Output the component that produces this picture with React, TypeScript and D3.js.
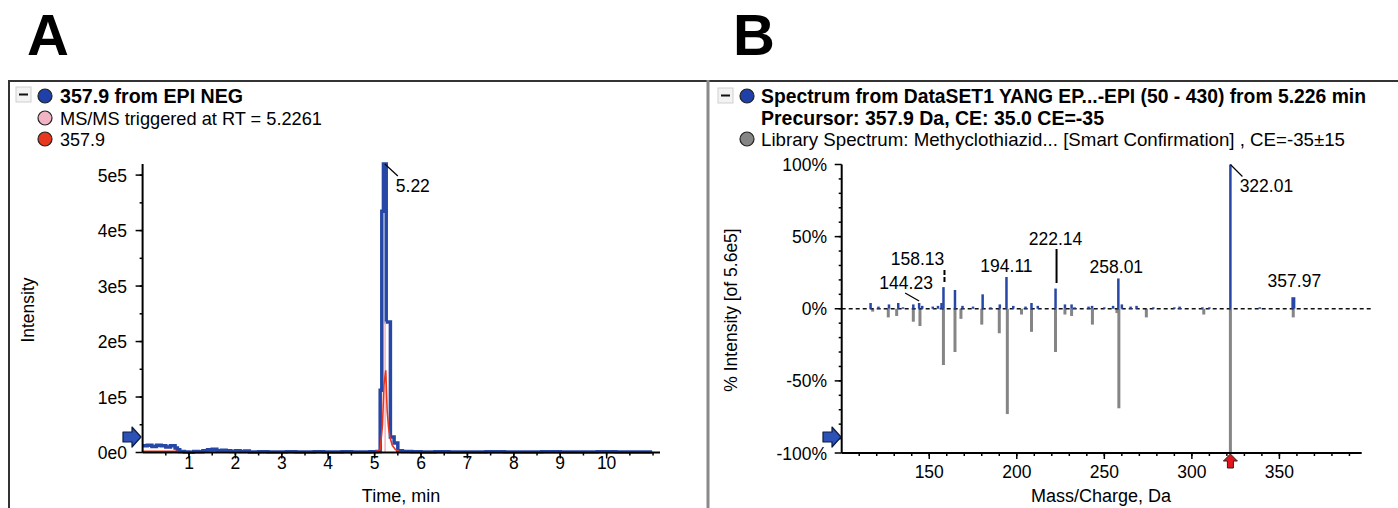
import React from 'react';
import * as d3 from 'd3';

// ---- panel A: chromatogram (time in min, intensity in units of 1e5) ----
const ticTime = [0, 0.1, 0.2, 0.3, 0.4, 0.5, 0.6, 0.7, 0.75, 0.8, 0.9, 1.0, 1.1, 1.2, 1.3, 1.4, 1.5, 1.6, 1.7, 1.8, 1.9, 2.0, 2.1, 2.2, 2.3, 2.5, 2.7, 2.9, 3.1, 3.3, 3.5, 3.7, 3.9, 4.1, 4.3, 4.5, 4.7, 4.9, 5.05, 5.12, 5.155, 5.19, 5.25, 5.34, 5.42, 5.5, 5.6, 5.8, 6.0, 6.3, 6.6, 7.0, 7.4, 7.8, 8.2, 8.6, 9.0, 9.4, 9.8, 10.2, 10.6, 10.98];
const ticValue = [0.12, 0.13, 0.11, 0.13, 0.12, 0.1, 0.12, 0.08, 0.05, 0.02, 0.01, 0.005, 0.02, 0.015, 0.03, 0.05, 0.06, 0.03, 0.04, 0.03, 0.02, 0.03, 0.02, 0.025, 0.01, 0.015, 0.01, 0.01, 0.015, 0.01, 0.01, 0.012, 0.01, 0.01, 0.012, 0.01, 0.01, 0.012, 0.02, 1.12, 4.35, 5.2, 2.35, 0.28, 0.17, 0.03, 0.02, 0.015, 0.01, 0.012, 0.01, 0.01, 0.012, 0.01, 0.01, 0.012, 0.01, 0.01, 0.012, 0.01, 0.01, 0.01];

const xicTime = [0, 0.75, 0.8, 1.5, 2.2, 3.0, 4.0, 5.0, 5.12, 5.17, 5.2, 5.24, 5.27, 5.3, 5.33, 5.38, 5.45, 5.55, 6.0, 8.0, 10.98];
const xicValue = [0.02, 0.02, 0.005, 0.01, 0.008, 0.004, 0.004, 0.005, 0.05, 0.5, 1.21, 1.48, 0.76, 0.45, 0.28, 0.13, 0.05, 0.01, 0.004, 0.004, 0.004];

const msmsRT = 5.2261;
const msmsHeight = 2.36;

const peakRT = 5.22;
const peakTop = 5.2;

const timeTicks = [1, 2, 3, 4, 5, 6, 7, 8, 9, 10];
const intensityTicks = [0, 1, 2, 3, 4, 5];
const intensityTickLabels = ['0e0', '1e5', '2e5', '3e5', '4e5', '5e5'];

// ---- panel B: mirror spectrum (m/z, % intensity) ----
const sampleMz = [116.5, 121, 127, 132.3, 135, 140.9, 144.23, 146, 152, 155, 157, 158.13, 164.7, 169, 175, 180.5, 185, 190.3, 194.11, 198, 205, 208.4, 212, 222.14, 227.5, 231.3, 233, 241, 243, 250, 255, 258.01, 260, 265, 268.4, 278, 290, 293, 306, 310, 322.01, 338.8, 357.97];
const samplePct = [4, 1.5, 3, 4, 1, 3, 4, 2, 1.5, 2, 4, 15, 13, 2, 1.5, 10, 1, 3, 22, 2, 1.5, 4, 2, 14, 3, 3, 1, 1.5, 2, 1, 2, 21, 3, 1.5, 2, 1, 1, 1.5, 1, 1, 100, 1, 8];

const libraryMz = [117.7, 126.6, 131.4, 140.9, 144.7, 158.1, 164.7, 168.1, 180, 190, 194.6, 202.7, 208.4, 222.1, 227.5, 231.3, 243.2, 257.2, 258.3, 274, 306.8, 322.0, 357.9];
const libraryPct = [2, 6, 5, 9, 12, 39, 30, 7, 11, 17, 73, 4, 16, 30, 4, 5, 11, 3, 69, 6, 4, 100, 6];

const labelMz = [144.23, 158.13, 194.11, 222.14, 258.01, 322.01, 357.97];
const labelText = ['144.23', '158.13', '194.11', '222.14', '258.01', '322.01', '357.97'];
// layout of the peak labels: text centre offset from the peak, baseline y, leader kind
const labelLayout = [
  { dx: -13, y: 289, leader: 'slant-left' },
  { dx: -26, y: 265, leader: 'dash' },
  { dx: 0, y: 272, leader: 'none' },
  { dx: 0, y: 245, leader: 'long' },
  { dx: -2, y: 273, leader: 'none' },
  { dx: 36, y: 192, leader: 'slant-right' },
  { dx: 1, y: 287, leader: 'none' },
];

const precursorMz = 322.01;
const mzTicks = [150, 200, 250, 300, 350];
const pctTicks = [-100, -50, 0, 50, 100];
const pctTickLabels = ['-100%', '-50%', '0%', '50%', '100%'];

const FONT = '"Liberation Sans", Arial, sans-serif';
const BLUE = '#2747a6';
const RED = '#e8371f';
const PINK = '#f2b4c4';
const GRAY = '#858585';

function LegendDot({ cx, cy, fill }: { cx: number; cy: number; fill: string }) {
  return <circle cx={cx} cy={cy} r={7} fill={fill} stroke="#222" strokeWidth={1.2} />;
}

function Collapse({ x, y }: { x: number; y: number }) {
  return (
    <g>
      <rect x={x} y={y} width={15} height={15} fill="#f3f3f3" stroke="#cfcfcf" />
      <line x1={x + 3} x2={x + 12} y1={y + 7.5} y2={y + 7.5} stroke="#111" strokeWidth={2} />
    </g>
  );
}

function RightArrow({ x, y }: { x: number; y: number }) {
  // tip at (x, y)
  const pts = [
    [x - 18, y - 5], [x - 9, y - 5], [x - 9, y - 10], [x, y], [x - 9, y + 10], [x - 9, y + 5], [x - 18, y + 5],
  ].map(p => p.join(',')).join(' ');
  return <polygon points={pts} fill="#2c52b8" stroke="#0d1a40" strokeWidth={1.2} strokeLinejoin="round" />;
}

function UpArrow({ x, y }: { x: number; y: number }) {
  const pts = [
    [x, y], [x + 7, y + 7], [x + 3, y + 7], [x + 3, y + 14], [x - 3, y + 14], [x - 3, y + 7], [x - 7, y + 7],
  ].map(p => p.join(',')).join(' ');
  return <polygon points={pts} fill="#e5141b" stroke="#222" strokeWidth={1} />;
}

export default function App() {
  const W = 1398;
  const H = 508;

  // scales
  const xL = d3.scaleLinear().domain([0, 11.15]).range([142.6, 660]);
  const yL = d3.scaleLinear().domain([0, 5.2]).range([452.5, 164]);
  const xR = d3.scaleLinear().domain([100, 397]).range([841.7, 1361.7]);
  const yR = d3.scaleLinear().domain([-100, 100]).range([453, 164.5]);

  const ticLine = d3.line<number>()
    .x((_, i) => xL(ticTime[i]))
    .y(d => yL(d))
    .curve(d3.curveStepAfter)(ticValue) || '';
  const xicLine = d3.line<number>()
    .x((_, i) => xL(xicTime[i]))
    .y(d => yL(d))(xicValue) || '';

  const timeMinor = d3.range(0.5, 11.1, 0.5);
  const intMinor = d3.range(0.5, 5.2, 0.5);
  const mzMinor = d3.range(110, 397, 10);
  const pctMinor = d3.range(-90, 100, 10);

  const tickFont = 17.5;

  return (
    <svg width={W} height={H} style={{ position: 'absolute', left: 0, top: 0, background: '#fff' }} fontFamily={FONT}>
      {/* panel letters */}
      <text x={27} y={55} fontSize={58} fontWeight="bold" fill="#000">A</text>
      <text x={733} y={55} fontSize={58} fontWeight="bold" fill="#000">B</text>

      {/* frames */}
      <line x1={9} x2={W} y1={81} y2={81} stroke="#333" strokeWidth={2} />
      <line x1={9} x2={9} y1={80} y2={H} stroke="#333" strokeWidth={2} />
      <line x1={708} x2={708} y1={80} y2={H} stroke="#8a8a8a" strokeWidth={3} />

      {/* ---------- panel A legend ---------- */}
      <Collapse x={16} y={87} />
      <LegendDot cx={45} cy={96} fill="#1f40a8" />
      <text x={60} y={103} fontSize={19.5} fontWeight="bold" textLength={183} lengthAdjust="spacingAndGlyphs">357.9 from EPI NEG</text>
      <LegendDot cx={45} cy={118} fill={PINK} />
      <text x={60} y={125} fontSize={18.5} textLength={262} lengthAdjust="spacingAndGlyphs">MS/MS triggered at RT = 5.2261</text>
      <LegendDot cx={45} cy={139} fill={RED} />
      <text x={60} y={146} fontSize={18.5} textLength={45} lengthAdjust="spacingAndGlyphs">357.9</text>

      {/* ---------- panel A chart ---------- */}
      <path d={ticLine} fill="none" stroke={BLUE} strokeWidth={3.5} strokeLinejoin="miter" />
      <line x1={xL(msmsRT)} x2={xL(msmsRT)} y1={yL(0)} y2={yL(msmsHeight)} stroke={PINK} strokeWidth={1.5} />
      <path d={xicLine} fill="none" stroke={RED} strokeWidth={1.6} />

      {/* axes A */}
      <line x1={xL(0)} x2={660} y1={yL(0)} y2={yL(0)} stroke="#000" strokeWidth={2} />
      <line x1={xL(0)} x2={xL(0)} y1={yL(0)} y2={yL(5.2)} stroke="#000" strokeWidth={2} />
      {timeMinor.map(t => (
        <line key={'tm' + t} x1={xL(t)} x2={xL(t)} y1={yL(0)} y2={yL(0) + 3} stroke="#000" strokeWidth={1.5} />
      ))}
      {timeTicks.map(t => (
        <g key={'tt' + t}>
          <line x1={xL(t)} x2={xL(t)} y1={yL(0)} y2={yL(0) + 6} stroke="#000" strokeWidth={1.5} />
          <text x={xL(t)} y={469} fontSize={tickFont} textAnchor="middle">{t}</text>
        </g>
      ))}
      {intMinor.map(v => (
        <line key={'im' + v} x1={xL(0) - 3} x2={xL(0)} y1={yL(v)} y2={yL(v)} stroke="#000" strokeWidth={1.5} />
      ))}
      {intensityTicks.map((v, i) => (
        <g key={'it' + v}>
          <line x1={xL(0) - 7} x2={xL(0)} y1={yL(v)} y2={yL(v)} stroke="#000" strokeWidth={1.5} />
          <text x={127} y={yL(v) + 6.5} fontSize={tickFont} textAnchor="end">{intensityTickLabels[i]}</text>
        </g>
      ))}
      <RightArrow x={141} y={437} />
      <text x={401} y={502} fontSize={18} textAnchor="middle">Time, min</text>
      <text x={0} y={0} fontSize={17.5} textAnchor="middle" transform={`translate(34,310) rotate(-90)`}>Intensity</text>

      {/* peak label A */}
      <line x1={xL(peakRT)} y1={yL(peakTop)} x2={xL(peakRT) + 13} y2={yL(peakTop) + 12} stroke="#000" strokeWidth={1.2} />
      <text x={xL(peakRT) + 28} y={192} fontSize={tickFont} textAnchor="middle">5.22</text>

      {/* ---------- panel B legend ---------- */}
      <Collapse x={718} y={88} />
      <LegendDot cx={747} cy={96} fill="#1f40a8" />
      <text x={761} y={103} fontSize={19.5} fontWeight="bold" textLength={605} lengthAdjust="spacingAndGlyphs">Spectrum from DataSET1 YANG EP...-EPI (50 - 430) from 5.226 min</text>
      <text x={761} y={125} fontSize={19.5} fontWeight="bold" textLength={343} lengthAdjust="spacingAndGlyphs">Precursor: 357.9 Da, CE: 35.0 CE=-35</text>
      <LegendDot cx={747} cy={139} fill={GRAY} />
      <text x={761} y={146} fontSize={18.5} textLength={584} lengthAdjust="spacingAndGlyphs">Library Spectrum: Methyclothiazid... [Smart Confirmation] , CE=-35±15</text>

      {/* ---------- panel B chart ---------- */}
      {libraryMz.map((m, i) => (
        <line key={'lib' + i} x1={xR(m)} x2={xR(m)} y1={yR(0)} y2={yR(-libraryPct[i])} stroke={GRAY} strokeWidth={3} />
      ))}
      <line x1={xR(100)} x2={1372} y1={yR(0)} y2={yR(0)} stroke="#111" strokeWidth={1.5} strokeDasharray="4,3" />
      {sampleMz.map((m, i) => (
        <line key={'s' + i} x1={xR(m)} x2={xR(m)} y1={yR(0)} y2={yR(samplePct[i])} stroke={BLUE}
          strokeWidth={m === 357.97 ? 4 : 2.5} />
      ))}

      {/* peak labels B */}
      {labelMz.map((m, i) => {
        const L = labelLayout[i];
        const px = xR(m);
        return (
          <g key={'lab' + i}>
            {L.leader === 'slant-left' && (
              <line x1={px - 14} y1={293} x2={px} y2={301} stroke="#000" strokeWidth={1.2} />
            )}
            {L.leader === 'dash' && (
              <line x1={px + 1} x2={px + 1} y1={270} y2={282} stroke="#000" strokeWidth={2} strokeDasharray="5,2" />
            )}
            {L.leader === 'long' && (
              <line x1={px + 1} x2={px + 1} y1={249} y2={283} stroke="#000" strokeWidth={2} />
            )}
            {L.leader === 'slant-right' && (
              <line x1={px} y1={yR(100)} x2={px + 12} y2={yR(100) + 12} stroke="#000" strokeWidth={1.2} />
            )}
            <text x={px + L.dx} y={L.y} fontSize={tickFont} textAnchor="middle">{labelText[i]}</text>
          </g>
        );
      })}

      {/* axes B */}
      <line x1={xR(100)} x2={xR(397)} y1={yR(-100)} y2={yR(-100)} stroke="#000" strokeWidth={2} />
      <line x1={xR(100)} x2={xR(100)} y1={yR(-100)} y2={yR(100)} stroke="#000" strokeWidth={2} />
      {mzMinor.map(m => (
        <line key={'mm' + m} x1={xR(m)} x2={xR(m)} y1={yR(-100)} y2={yR(-100) + 3} stroke="#000" strokeWidth={1.5} />
      ))}
      {mzTicks.map(m => (
        <g key={'mt' + m}>
          <line x1={xR(m)} x2={xR(m)} y1={yR(-100)} y2={yR(-100) + 6} stroke="#000" strokeWidth={1.5} />
          <text x={xR(m)} y={478} fontSize={tickFont} textAnchor="middle">{m}</text>
        </g>
      ))}
      {pctMinor.map(v => (
        <line key={'pm' + v} x1={xR(100) - 3} x2={xR(100)} y1={yR(v)} y2={yR(v)} stroke="#000" strokeWidth={1.5} />
      ))}
      {pctTicks.map((v, i) => (
        <g key={'pt' + v}>
          <line x1={xR(100) - 7} x2={xR(100)} y1={yR(v)} y2={yR(v)} stroke="#000" strokeWidth={1.5} />
          <text x={827} y={yR(v) + 6.5} fontSize={tickFont} textAnchor="end">{pctTickLabels[i]}</text>
        </g>
      ))}
      <RightArrow x={841} y={437} />
      <UpArrow x={xR(precursorMz)} y={454} />
      <text x={1101} y={502} fontSize={18} textAnchor="middle">Mass/Charge, Da</text>
      <text x={0} y={0} fontSize={17.5} textAnchor="middle" transform={`translate(737,310) rotate(-90)`}>% Intensity [of 5.6e5]</text>
    </svg>
  );
}
